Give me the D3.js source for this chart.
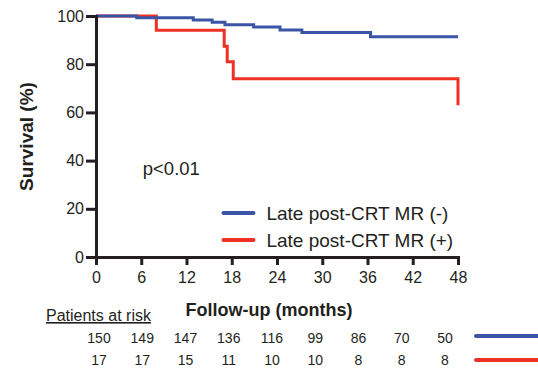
<!DOCTYPE html>
<html>
<head>
<meta charset="utf-8">
<script src="https://cdn.jsdelivr.net/npm/d3@7/dist/d3.min.js"></script>
<style>
  html, body { margin: 0; padding: 0; background: #fff; }
  svg { display: block; font-family: "Liberation Sans", Arial, Helvetica, sans-serif; }
</style>
</head>
<body>
<svg id="chart" width="538" height="371"></svg>
<script>
// ---- data ----
const seriesNames = ["Late post-CRT MR (-)", "Late post-CRT MR (+)"];
const seriesColors = ["#3b55a6", "#ee3124"];
const negTimes  = [0, 5.4, 12.9, 15.4, 17.1, 20.9, 24.4, 27.3, 36.4, 48];
const negValues = [100, 99.3, 98.3, 97.4, 96.4, 95.4, 94.2, 93.2, 91.4, 91.4];
const posTimes  = [0, 8, 17, 17.4, 18.2, 48, 48];
const posValues = [100, 94.1, 87.5, 81, 74, 74, 63];
const xTicks = [0, 6, 12, 18, 24, 30, 36, 42, 48];
const yTicks = [0, 20, 40, 60, 80, 100];
const riskTimes = [0, 6, 12, 18, 24, 30, 36, 42, 48];
const riskNeg = [150, 149, 147, 136, 116, 99, 86, 70, 50];
const riskPos = [17, 17, 15, 11, 10, 10, 8, 8, 8];
const pText = "p<0.01";
const xTitle = "Follow-up (months)";
const yTitle = "Survival (%)";
const riskTitle = "Patients at risk";

// ---- layout ----
const svg = d3.select("#chart");
const M = { left: 96, top: 16, right: 80, bottom: 114 };
const W = 538 - M.left - M.right;   // 362
const H = 371 - M.top - M.bottom;   // 241
const textColor = "#231f20";

const x = d3.scaleLinear().domain([0, 48]).range([0, W]);
const y = d3.scaleLinear().domain([0, 100]).range([H, 0]);

const g = svg.append("g").attr("transform", `translate(${M.left},${M.top})`);

// curves
const line = d3.line()
  .x(d => x(d[0])).y(d => y(d[1]))
  .curve(d3.curveStepAfter);

const series = [
  d3.zip(negTimes, negValues),
  d3.zip(posTimes, posValues)
];
// draw red first? In reference blue over red at top-left
[1, 0].forEach(i => {
  g.append("path")
    .datum(series[i])
    .attr("fill", "none")
    .attr("stroke", seriesColors[i])
    .attr("stroke-width", 3)
    .attr("d", line);
});

// axes
const xAxis = g.append("g")
  .attr("transform", `translate(0,${H})`)
  .call(d3.axisBottom(x).tickValues(xTicks).tickSize(8).tickSizeOuter(0).tickPadding(7));
const yAxis = g.append("g")
  .call(d3.axisLeft(y).tickValues(yTicks).tickSize(10).tickSizeOuter(0).tickPadding(2));

[xAxis, yAxis].forEach(a => {
  a.select(".domain").attr("stroke", textColor).attr("stroke-width", 3).attr("stroke-linecap", "square");
  a.selectAll(".tick line").attr("stroke", textColor).attr("stroke-width", 3);
  a.selectAll(".tick text").attr("fill", textColor).attr("font-size", 16)
    .attr("font-family", "Liberation Sans, Arial, sans-serif");
});

// axis titles
svg.append("text")
  .attr("transform", `translate(33,${M.top + H / 2}) rotate(-90)`)
  .attr("text-anchor", "middle")
  .attr("font-weight", "bold").attr("font-size", 19).attr("fill", textColor)
  .text(yTitle);

svg.append("text")
  .attr("x", 269).attr("y", 316)
  .attr("text-anchor", "middle")
  .attr("font-weight", "bold").attr("font-size", 18).attr("fill", textColor)
  .text(xTitle);

// p-value
g.append("text")
  .attr("x", x(6.2)).attr("y", y(34))
  .attr("font-size", 18.5).attr("fill", textColor)
  .text(pText);

// legend
const leg = g.append("g").attr("transform", `translate(${x(16.9)},${y(18.3)})`);
seriesNames.forEach((name, i) => {
  const row = leg.append("g").attr("transform", `translate(0,${i * 27})`);
  row.append("line")
    .attr("x1", 0).attr("x2", 30).attr("y1", 0).attr("y2", 0)
    .attr("stroke", seriesColors[i]).attr("stroke-width", 4)
    .attr("stroke-linecap", "round");
  row.append("text")
    .attr("x", 43).attr("y", 7)
    .attr("font-size", 19).attr("fill", textColor)
    .text(name);
});

// risk table
const rx = d3.scaleLinear().domain([0, 48]).range([99, 445]);
svg.append("text")
  .attr("x", 46).attr("y", 321)
  .attr("font-size", 16).attr("fill", textColor)
  .attr("text-decoration", "underline")
  .text(riskTitle);

const rows = [riskNeg, riskPos];
const rowY = [343, 365];
const lineY = [336, 360];
rows.forEach((vals, r) => {
  svg.append("g").selectAll("text")
    .data(vals)
    .join("text")
    .attr("x", (d, i) => rx(riskTimes[i]))
    .attr("y", rowY[r])
    .attr("text-anchor", "middle")
    .attr("font-size", 14).attr("fill", textColor)
    .text(d => d);
  svg.append("line")
    .attr("x1", 476).attr("x2", 545)
    .attr("y1", lineY[r]).attr("y2", lineY[r])
    .attr("stroke", seriesColors[r]).attr("stroke-width", 4)
    .attr("stroke-linecap", "round");
});
</script>
</body>
</html>
